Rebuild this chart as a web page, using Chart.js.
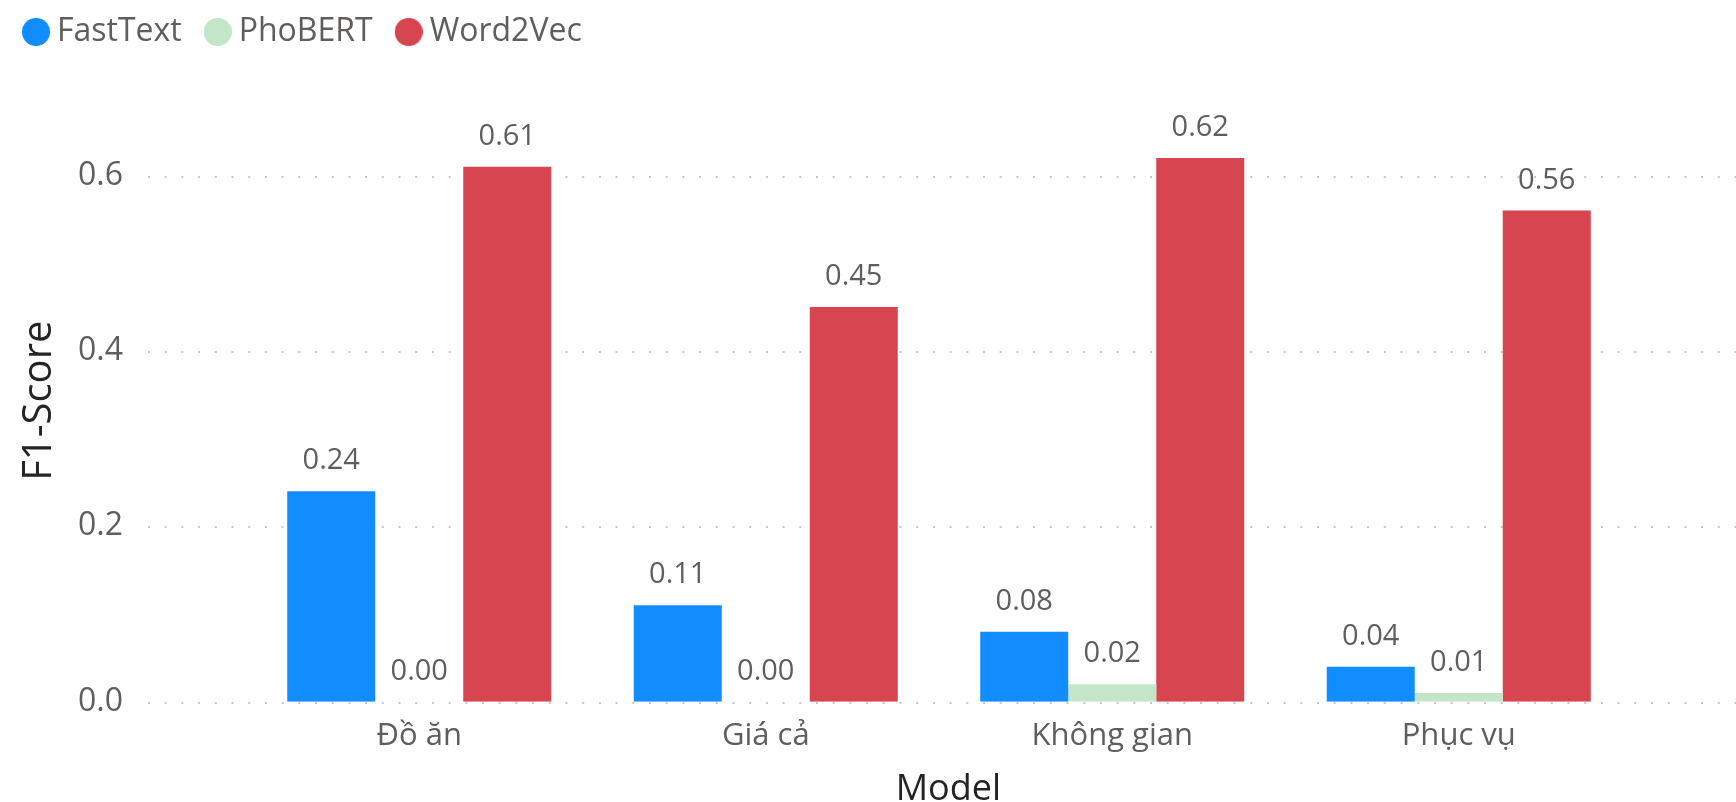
<!DOCTYPE html>
<html lang="vi">
<head>
  <meta charset="UTF-8" />
  <title>F1-Score theo khía cạnh</title>
  <script src="https://cdn.jsdelivr.net/npm/chart.js"></script>
  <style>
    html, body { margin: 0; padding: 0; background: #fff; }
    .chart-box { width: 1736px; height: 802px; }
  </style>
</head>
<body>
  <div class="chart-box">
    <canvas id="f1Chart"></canvas>
  </div>

  <script>
    // Dữ liệu
    const categories = ["Đồ ăn", "Giá cả", "Không gian", "Phục vụ"];
    const fastText = [0.24, 0.11, 0.08, 0.04];
    const phoBERT = [0.00, 0.00, 0.02, 0.01];
    const word2Vec = [0.61, 0.45, 0.62, 0.56];
    const yTicks = [0, 0.2, 0.4, 0.6];

    const FONT = "'Open Sans', 'Noto Sans', sans-serif";
    const GRAY = "#605E5C";
    const DARK = "#252423";
    const COLORS = ["#118DFF", "#C3E5C8", "#D64550"];

    // Chấm tròn cho chú giải (vẽ sẵn để chữ nằm sát chấm)
    function makeDot(color) {
      const c = document.createElement("canvas");
      c.width = 28;
      c.height = 28;
      const g = c.getContext("2d");
      g.fillStyle = color;
      g.beginPath();
      g.arc(14, 14, 14, 0, Math.PI * 2);
      g.fill();
      return c;
    }

    // Đường lưới chấm, kéo dài ra hai bên vùng cột
    const dottedGrid = {
      id: "dottedGrid",
      beforeDatasetsDraw(chart) {
        const { ctx, chartArea, scales } = chart;
        ctx.save();
        ctx.strokeStyle = "#C8C6C4";
        ctx.lineWidth = 2;
        ctx.setLineDash([2, 14.7]);
        yTicks.forEach(v => {
          const y = Math.round(scales.y.getPixelForValue(v)) + 1;
          ctx.beginPath();
          ctx.moveTo(chartArea.left - 98, y);
          ctx.lineTo(chartArea.right + 112, y);
          ctx.stroke();
        });
        ctx.restore();
      }
    };

    // Nhãn giá trị phía trên mỗi cột
    const valueLabels = {
      id: "valueLabels",
      afterDatasetsDraw(chart) {
        const { ctx } = chart;
        ctx.save();
        ctx.font = `29px ${FONT}`;
        ctx.fillStyle = GRAY;
        ctx.textAlign = "center";
        ctx.textBaseline = "alphabetic";
        chart.data.datasets.forEach((ds, i) => {
          chart.getDatasetMeta(i).data.forEach((bar, j) => {
            ctx.fillText(ds.data[j].toFixed(2), bar.x, bar.y - 22);
          });
        });
        ctx.restore();
      }
    };

    new Chart(document.getElementById("f1Chart"), {
      type: "bar",
      data: {
        labels: categories,
        datasets: [
          { label: "FastText", data: fastText, backgroundColor: COLORS[0], pointStyle: makeDot(COLORS[0]) },
          { label: "PhoBERT", data: phoBERT, backgroundColor: COLORS[1], pointStyle: makeDot(COLORS[1]) },
          { label: "Word2Vec", data: word2Vec, backgroundColor: COLORS[2], pointStyle: makeDot(COLORS[2]) }
        ]
      },
      options: {
        responsive: true,
        maintainAspectRatio: false,
        animation: false,
        categoryPercentage: 0.762,
        barPercentage: 1.0,
        // padding trên âm: khoảng đệm của chú giải quá lớn theo chiều dọc
        layout: { padding: { left: 0, right: 104, top: -15, bottom: 0 } },
        plugins: {
          tooltip: { enabled: false },
          legend: {
            position: "top",
            align: "start",
            labels: {
              usePointStyle: true,
              boxHeight: 19,
              pointStyleWidth: 10,
              padding: 31,
              color: GRAY,
              font: { family: FONT, size: 32 }
            }
          }
        },
        scales: {
          x: {
            grid: { display: false },
            border: { display: false },
            ticks: { color: GRAY, font: { family: FONT, size: 31 }, padding: 8 },
            title: {
              display: true,
              text: "  Model",
              color: DARK,
              font: { family: FONT, size: 36, lineHeight: 1.0 },
              padding: { top: 9, bottom: -6 }
            }
          },
          y: {
            min: 0,
            max: 0.734,
            afterBuildTicks(scale) {
              scale.ticks = yTicks.map(v => ({ value: v }));
            },
            // nhãn trục Y nằm cách xa vùng cột; bỏ phần đệm dọc do padding gây ra
            afterFit(scale) {
              scale.width = 246;
              scale.paddingTop = 0;
              scale.paddingBottom = 0;
            },
            grid: { display: false },
            border: { display: false },
            ticks: {
              color: GRAY,
              font: { family: FONT, size: 32 },
              padding: 115,
              callback: v => Number(v).toFixed(1)
            },
            title: {
              display: true,
              text: "F1-Score    ",
              color: DARK,
              font: { family: FONT, size: 40 },
              padding: { top: 16, bottom: 15 }
            }
          }
        }
      },
      plugins: [dottedGrid, valueLabels]
    });
  </script>
</body>
</html>
